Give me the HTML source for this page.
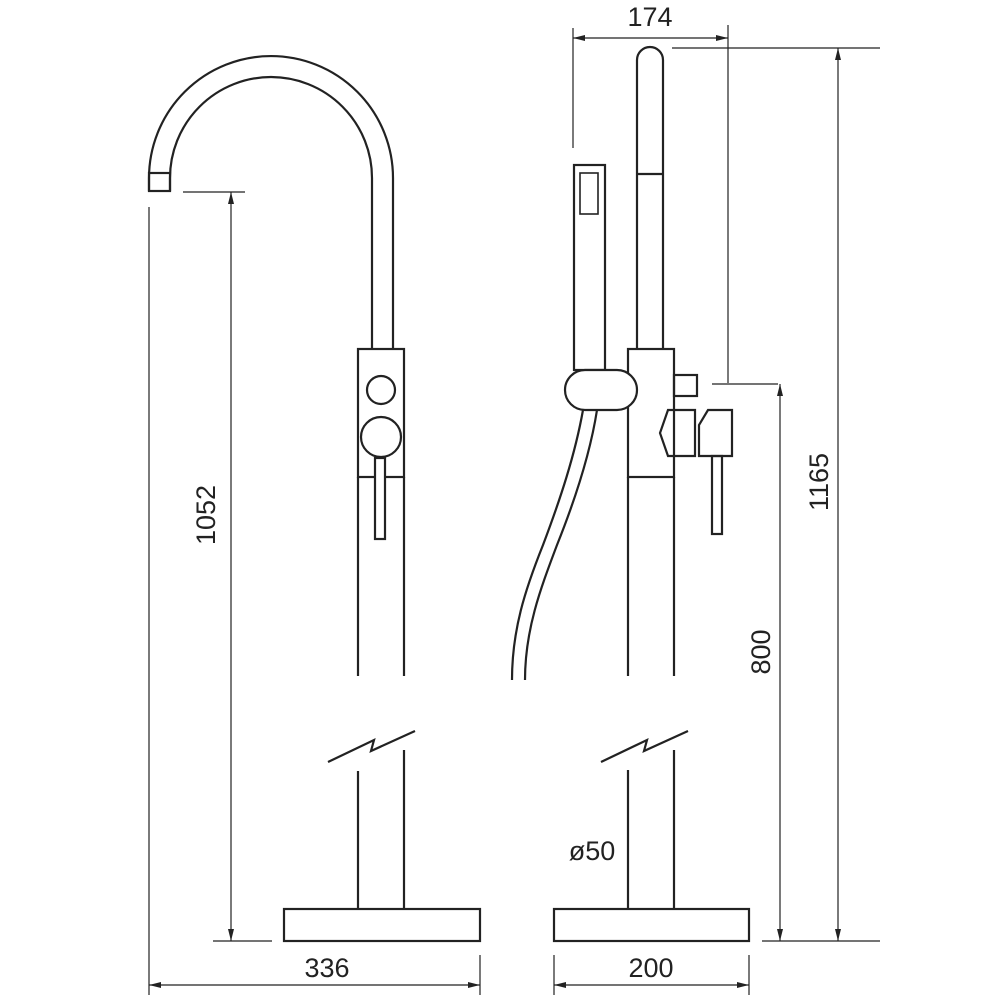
<!DOCTYPE html>
<html><head><style>
html,body{margin:0;padding:0;background:#fff;}
svg{display:block}
text{font-family:"Liberation Sans",Arial,sans-serif;font-size:27px;fill:#222}
</style></head><body>
<svg width="1000" height="1000" viewBox="0 0 1000 1000" xmlns="http://www.w3.org/2000/svg">
<defs>
<marker id="a" viewBox="0 0 12 6" refX="12" refY="3" markerWidth="12" markerHeight="6" orient="auto-start-reverse" markerUnits="userSpaceOnUse"><path d="M0,0 L12,3 L0,6 z" fill="#222"/></marker>
</defs>
<g fill="none" stroke="#222" stroke-width="2.2">
<path d="M149,191 L149,178 A122,122 0 0 1 393,178 L393,349"/>
<path d="M170,191 L170,178 A101,101 0 0 1 372,178 L372,349"/>
<rect x="149" y="173" width="21" height="18"/>
<rect x="358" y="349" width="46" height="128"/>
<line x1="358" y1="477" x2="358" y2="676"/><line x1="404" y1="477" x2="404" y2="676"/>
<circle cx="381" cy="390" r="14"/>
<circle cx="381" cy="437" r="20"/>
<rect x="375" y="458" width="10" height="81" fill="#fff"/>
<path d="M328,762 L374,740 L371,751 L415,731"/>
<line x1="358" y1="771" x2="358" y2="909"/><line x1="404" y1="750" x2="404" y2="909"/>
<rect x="284" y="909" width="196" height="32"/>
<path d="M637,349 L637,60 A13,13 0 0 1 663,60 L663,349"/>
<line x1="637" y1="174" x2="663" y2="174"/>
<rect x="574" y="165" width="31" height="205"/>
<rect x="580" y="173" width="18" height="41" stroke-width="1.6"/>
<rect x="628" y="349" width="46" height="128"/>
<line x1="628" y1="477" x2="628" y2="676"/><line x1="674" y1="477" x2="674" y2="676"/>
<rect x="565" y="370" width="72" height="40" rx="20" fill="#fff"/>
<rect x="674" y="375" width="23" height="21"/>
<path d="M668,410 L695,410 L695,456 L668,456 L660,433 z"/>
<path d="M708,410 L732,410 L732,456 L699,456 L699,425 z"/>
<rect x="712" y="456" width="10" height="78"/>
<path d="M583,410 C575,455 560,500 543,545 C525,590 512,630 512,680"/>
<path d="M597,410 C590,455 575,500 557,545 C540,590 525,630 525,680"/>
<path d="M601,762 L647,740 L644,751 L688,731"/>
<line x1="628" y1="770" x2="628" y2="909"/><line x1="674" y1="750" x2="674" y2="909"/>
<rect x="554" y="909" width="195" height="32"/>
</g>
<g fill="none" stroke="#222" stroke-width="1.2">
<line x1="149" y1="207" x2="149" y2="995"/>
<line x1="183" y1="192" x2="245" y2="192"/>
<line x1="213" y1="941" x2="272" y2="941"/>
<line x1="231" y1="192" x2="231" y2="941" marker-start="url(#a)" marker-end="url(#a)"/>
<line x1="480" y1="955" x2="480" y2="995"/>
<line x1="149" y1="985" x2="480" y2="985" marker-start="url(#a)" marker-end="url(#a)"/>
<line x1="573" y1="28" x2="573" y2="148"/>
<line x1="728" y1="25" x2="728" y2="383"/>
<line x1="573" y1="38" x2="728" y2="38" marker-start="url(#a)" marker-end="url(#a)"/>
<line x1="672" y1="48" x2="880" y2="48"/>
<line x1="762" y1="941" x2="880" y2="941"/>
<line x1="838" y1="48" x2="838" y2="941" marker-start="url(#a)" marker-end="url(#a)"/>
<line x1="712" y1="384" x2="778" y2="384"/>
<line x1="780" y1="384" x2="780" y2="941" marker-start="url(#a)" marker-end="url(#a)"/>
<line x1="554" y1="955" x2="554" y2="995"/>
<line x1="749" y1="955" x2="749" y2="995"/>
<line x1="554" y1="985" x2="749" y2="985" marker-start="url(#a)" marker-end="url(#a)"/>
</g>
<text x="327" y="977" text-anchor="middle">336</text>
<text x="651" y="977" text-anchor="middle">200</text>
<text x="650" y="26" text-anchor="middle">174</text>
<text x="592" y="860" text-anchor="middle">ø50</text>
<text transform="translate(215,515) rotate(-90)" text-anchor="middle">1052</text>
<text transform="translate(828,482) rotate(-90)" text-anchor="middle">1165</text>
<text transform="translate(770,652) rotate(-90)" text-anchor="middle">800</text>
</svg>
</body></html>
